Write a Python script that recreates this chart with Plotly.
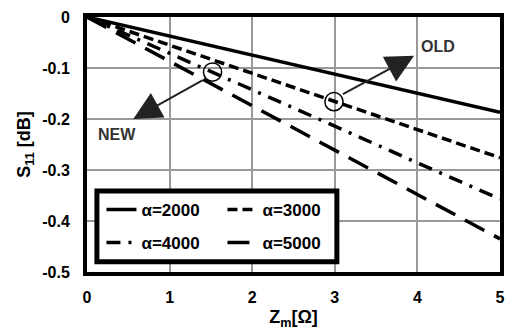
import plotly.graph_objects as go

zm = [0, 1, 2, 3, 4, 5]
s11_2000 = [0, -0.0375, -0.075, -0.112, -0.150, -0.187]
s11_3000 = [0, -0.055, -0.110, -0.166, -0.221, -0.276]
s11_4000 = [0, -0.071, -0.143, -0.214, -0.286, -0.357]
s11_5000 = [0, -0.087, -0.174, -0.261, -0.348, -0.435]
names = ["α=2000", "α=3000", "α=4000", "α=5000"]
dashes = ["solid", "10px,5px", "14px,8px,3px,8px", "22px,11px"]
xticks = [0, 1, 2, 3, 4, 5]
yticks = [0, -0.1, -0.2, -0.3, -0.4, -0.5]
ylabels = ["0", "-0.1", "-0.2", "-0.3", "-0.4", "-0.5"]

FONT = "Arial, Liberation Sans, sans-serif"
fig = go.Figure()
series = [s11_2000, s11_3000, s11_4000, s11_5000]
legs = ["legend", "legend", "legend2", "legend2"]
for n, s, d, lg in zip(names, series, dashes, legs):
    fig.add_trace(go.Scatter(x=zm, y=s, mode="lines", name=n, legend=lg,
                             line=dict(color="black", width=3.5, dash=d)))

# circles
for cx, cy in [(1.52, -0.108), (2.99, -0.166)]:
    fig.add_shape(type="circle", xref="x", yref="y",
                  x0=cx - 0.11, x1=cx + 0.11, y0=cy - 0.018, y1=cy + 0.018,
                  line=dict(color="black", width=1.5))

fig.add_annotation(x=0.56, y=-0.2, ax=1.42, ay=-0.122, xref="x", yref="y",
                   axref="x", ayref="y", showarrow=True, arrowhead=2,
                   arrowsize=2.8, arrowwidth=2, arrowcolor="#222", text="")
fig.add_annotation(x=3.96, y=-0.076, ax=3.08, ay=-0.153, xref="x", yref="y",
                   axref="x", ayref="y", showarrow=True, arrowhead=2,
                   arrowsize=2.8, arrowwidth=2, arrowcolor="#222", text="")
fig.add_annotation(x=0.36, y=-0.23, text="<b>NEW</b>", showarrow=False,
                   font=dict(size=16, color="#333", family=FONT))
fig.add_annotation(x=4.25, y=-0.057, text="<b>OLD</b>", showarrow=False,
                   font=dict(size=16, color="#333", family=FONT))

# legend box
fig.add_shape(type="rect", xref="paper", yref="paper",
              x0=0.024, x1=0.605, y0=0.04, y1=0.318,
              line=dict(color="black", width=5), fillcolor="white", layer="above")

legfont = dict(size=17, color="black", family=FONT, weight="bold")
fig.update_layout(
    width=507, height=325,
    margin=dict(l=79, r=15, t=9, b=61, autoexpand=False),
    plot_bgcolor="white", paper_bgcolor="white",
    font=dict(family=FONT, size=16, color="black", weight="bold"),
    legend=dict(x=0.035, y=0.243, xanchor="left", yanchor="middle", orientation="h",
                font=legfont, bgcolor="rgba(0,0,0,0)", entrywidth=76,
                itemwidth=30, tracegroupgap=0),
    legend2=dict(x=0.035, y=0.114, xanchor="left", yanchor="middle", orientation="h",
                 font=legfont, bgcolor="rgba(0,0,0,0)", entrywidth=76,
                 itemwidth=30, tracegroupgap=0),
    xaxis=dict(range=[0, 5], tickvals=xticks, showgrid=True, gridcolor="#999",
               gridwidth=1.5, zeroline=False, showline=True, linecolor="black",
               linewidth=4, mirror=True, ticks="", tickfont=dict(size=16),
               ticklabelstandoff=8, automargin=False,
               title=dict(text="<b>Z<sub>m</sub>[Ω]</b>", font=dict(size=18), standoff=6)),
    yaxis=dict(range=[-0.5, 0], tickvals=yticks, ticktext=ylabels, showgrid=True,
               gridcolor="#999", gridwidth=1.5, zeroline=False, showline=True,
               linecolor="black", linewidth=4, mirror=True, ticks="",
               tickfont=dict(size=16), ticklabelstandoff=10, automargin=False,
               title=dict(text="<b>S<sub>11</sub> [dB]</b>", font=dict(size=18), standoff=8)),
)
fig.write_html("out.html")
